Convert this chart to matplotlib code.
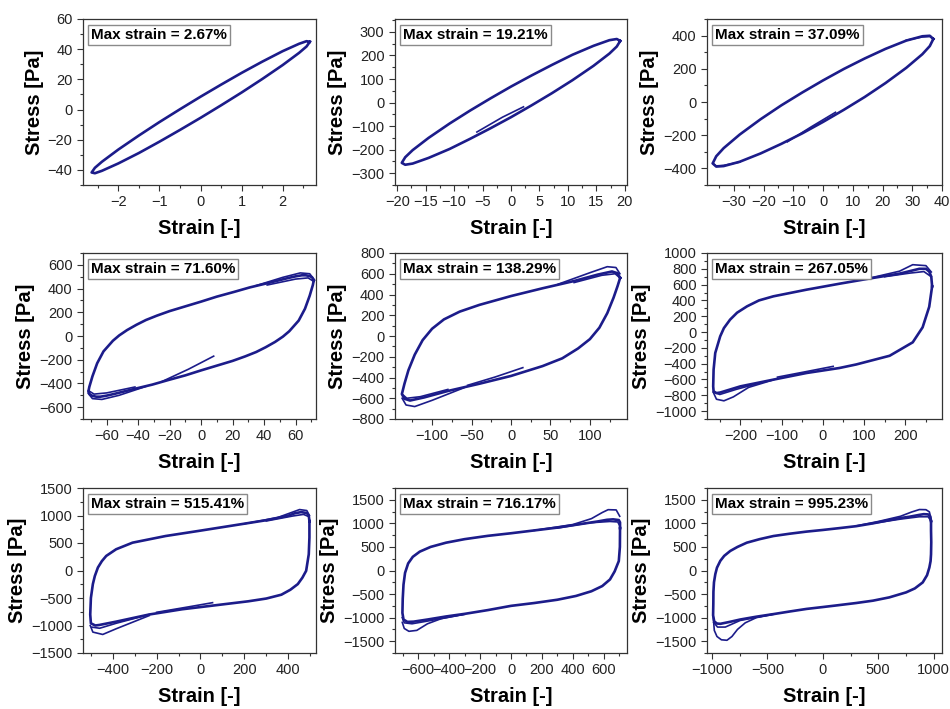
import matplotlib
matplotlib.use('Agg')
import matplotlib.pyplot as plt
from matplotlib.ticker import MultipleLocator
import numpy as np

plt.rcParams['font.family'] = ['Liberation Sans', 'DejaVu Sans']

LINE_COLOR = '#1c1c8a'
nan = np.nan

MAX_STRAIN_LABELS = ['2.67%', '19.21%', '37.09%', '71.60%', '138.29%',
                     '267.05%', '515.41%', '716.17%', '995.23%']

# steady loops
P1_STRAIN = [2.66, 2.58, 2.4, 2.0, 1.5, 1.0, 0.5, 0.0, -0.5, -1.0, -1.5, -2.0, -2.4, -2.57, -2.65,
             -2.57, -2.4, -2.0, -1.5, -1.0, -0.5, 0.0, 0.5, 1.0, 1.5, 2.0, 2.4, 2.58, 2.66]
P1_STRESS = [44.9, 45.3, 43.6, 38.7, 31.7, 24.3, 16.5, 8.5, 0.2, -8.3, -17.2, -26.5, -34.6, -38.6, -41.7,
             -42.2, -40.6, -35.7, -28.8, -21.3, -13.5, -5.5, 2.8, 11.3, 20.2, 29.5, 37.6, 41.8, 44.9]

P2_STRAIN = [19.21, 18.6, 17.3, 14.5, 10.8, 7.2, 3.6, 0, -3.6, -7.2, -10.8, -14.5, -17.3, -18.6, -19.21,
             -18.6, -17.3, -14.5, -10.8, -7.2, -3.6, 0, 3.6, 7.2, 10.8, 14.5, 17.3, 18.6, 19.21]
P2_STRESS = [262, 270, 265, 241, 203, 160, 115, 68, 18, -34, -89, -150, -202, -232, -256,
             -264, -259, -235, -197, -154, -109, -62, -12, 40, 95, 156, 208, 238, 262]

P3_STRAIN = [37.09, 35.9, 33.4, 28, 21, 14, 7, 0, -7, -14, -21, -28, -33.4, -35.9, -37.09,
             -35.9, -33.4, -28, -21, -14, -7, 0, 7, 14, 21, 28, 33.4, 35.9, 37.09]
P3_STRESS = [380, 399, 396, 370, 320, 262, 199, 130, 57, -20, -104, -196, -278, -327, -370,
             -389, -386, -360, -310, -252, -189, -120, -47, 30, 114, 206, 288, 337, 380]

P4_STRAIN = [71.6, 70.5, 69, 66.5, 64, 60, 55, 42, 31, 21, 10, 0, -10, -20, -28, -35, -41, -47, -52,
             -56, -59, -62, -64, -66, -69, -71, -71.6,
             -70.5, -69, -66.5, -64, -60, -55, -42, -31, -21, -10, 0, 10, 20, 28, 35, 41, 47, 52,
             56, 59, 62, 64, 66, 69, 71, 71.6]
P4_STRESS = [470, 495, 505, 512, 512, 503, 488, 445, 410, 372, 332, 290, 250, 210, 172, 135, 95, 50, 5,
             -40, -85, -130, -180, -230, -340, -430, -470,
             -495, -505, -512, -512, -503, -488, -445, -410, -372, -332, -290, -250, -210, -172, -135, -95, -50, -5,
             40, 85, 130, 180, 230, 340, 430, 470]

P5_STRAIN = [138.3, 135, 128, 110, 80, 40, 0, -40, -65, -85, -100, -112, -122, -130, -135, -138.3,
             -135, -128, -110, -80, -40, 0, 40, 65, 85, 100, 112, 122, 130, 135, 138.3]
P5_STRESS = [560, 605, 622, 592, 530, 460, 385, 300, 235, 160, 70, -40, -180, -330, -460, -560,
             -605, -622, -592, -530, -460, -385, -290, -215, -120, -30, 80, 220, 370, 480, 560]

P6_STRAIN = [265, 263, 258, 250, 234, 186, 121, 41, -39.5, -120, -155, -184, -208, -225, -240, -249,
             -261, -265, -266, -265, -258, -249, -200, -120, -39.5, 40, 81, 162, 218, 242, 258, 265]
P6_STRESS = [578, 700, 765, 800, 800, 739, 684, 612, 536, 452, 400, 325, 245, 157, 50, -54,
             -265, -476, -687, -750, -772, -765, -687, -602, -518, -455, -410, -300, -130, 60, 320, 578]

P7_STRAIN = [497, 494, 485, 459, 430, 399, 293, 143, -8, -159, -310, -385, -430, -450, -468, -482,
             -491, -500, -503, -500, -480, -461, -385, -234, -84, 52, 218, 300, 369, 410, 444, 465,
             482, 494, 497, 497]
P7_STRESS = [898, 1000, 1045, 1062, 1040, 995, 910, 815, 720, 627, 506, 386, 265, 170, 54, -100,
             -247, -500, -800, -960, -1000, -990, -930, -800, -705, -640, -560, -510, -440, -350, -247, -130,
             -6, 295, 600, 898]

P8_STRAIN = [705, 705, 697, 660, 620, 560, 450, 300, 150, 0, -150, -300, -420, -520, -590, -635,
             -665, -685, -695, -700, -702, -695, -670, -630, -540, -420, -300, -150, 0, 150,
             300, 420, 520, 590, 640, 670, 697, 704, 705]
P8_STRESS = [900, 1020, 1070, 1085, 1075, 1040, 985, 910, 850, 790, 735, 665, 590, 500, 400, 290,
             150, -50, -300, -600, -900, -1040, -1090, -1085, -1040, -975, -920, -840, -750, -690,
             -620, -540, -440, -330, -190, -20, 200, 500, 900]

P9_STRAIN = [976, 968, 950, 910, 871, 780, 692, 560, 452, 300, 153, 0, -147, -300, -446, -570,
             -686, -770, -835, -890, -925, -955, -970, -982, -987, -988, -990, -980, -955, -925,
             -840, -746, -600, -446, -300, -147, 0, 108, 300, 452, 600, 751, 830, 901, 940, 961,
             972, 976, 978, 976, 976]
P9_STRESS = [1047, 1150, 1190, 1195, 1180, 1140, 1110, 1050, 1000, 940, 900, 860, 825, 780, 731, 665,
             590, 500, 415, 310, 204, 60, -77, -250, -450, -710, -950, -1080, -1125, -1131,
             -1090, -1040, -980, -925, -870, -815, -775, -745, -690, -640, -570, -464, -380, -253, -100, 63,
             200, 344, 600, 850, 1047]

# other steady cycles near the corners (pieces separated by nan)
P1_CYCLE_STRAIN = []
P1_CYCLE_STRESS = []
P2_CYCLE_STRAIN = []
P2_CYCLE_STRESS = []
P3_CYCLE_STRAIN = [28, 33.4, 36, 37.09, nan, -28, -33.4, -36, -37.09]
P3_CYCLE_STRESS = [372, 392, 395, 378, nan, -362, -382, -385, -368]
P4_CYCLE_STRAIN = [42, 60, 68, 71.6, nan, -42, -60, -68, -71.6]
P4_CYCLE_STRESS = [430, 480, 490, 460, nan, -430, -480, -490, -460]
P5_CYCLE_STRAIN = [80, 115, 132, 138, nan, -80, -115, -132, -138]
P5_CYCLE_STRESS = [515, 585, 600, 560, nan, -515, -585, -600, -560]
P6_CYCLE_STRAIN = [150, 210, 245, 263, nan, -150, -210, -250, -265]
P6_CYCLE_STRESS = [700, 745, 765, 700, nan, -640, -725, -790, -760]
P7_CYCLE_STRAIN = [300, 420, 470, 494, nan, -234, -385, -460, -495]
P7_CYCLE_STRESS = [900, 990, 1020, 980, nan, -800, -960, -1050, -1030]
P8_CYCLE_STRAIN = [300, 500, 640, 690, 703, nan, -300, -500, -640, -690, -703]
P8_CYCLE_STRESS = [900, 1010, 1040, 1030, 950, nan, -930, -1050, -1130, -1110, -1000]
P9_CYCLE_STRAIN = [450, 700, 870, 950, 976, nan, -450, -746, -880, -950, -985]
P9_CYCLE_STRESS = [1000, 1090, 1140, 1140, 1050, nan, -925, -1060, -1200, -1200, -1100]

# start-up segment and first-cycle overshoots
P1_FIRST_STRAIN = []
P1_FIRST_STRESS = []
P2_FIRST_STRAIN = [2.2, -1.5, -6]
P2_FIRST_STRESS = [-18, -62, -125]
P3_FIRST_STRAIN = [4.2, -4, -12]
P3_FIRST_STRESS = [-62, -150, -240]
P4_FIRST_STRAIN = [8, -8, -25, nan, 35, 52, 63, 69, 71.6, nan, -35, -52, -63, -69, -71.6]
P4_FIRST_STRESS = [-170, -280, -385, nan, 425, 495, 532, 525, 480, nan, -425, -500, -535, -528, -485]
P5_FIRST_STRAIN = [15, -20, -55, nan, 60, 100, 122, 133, 138, nan, -60, -100, -122, -133, -138]
P5_FIRST_STRESS = [-305, -395, -475, nan, 500, 610, 668, 660, 600, nan, -500, -620, -680, -665, -600]
P6_FIRST_STRAIN = [25, -40, -110, nan, 120, 186, 218, 250, 263, nan, -120, -180, -217, -240, -258, -266]
P6_FIRST_STRESS = [-434, -500, -570, nan, 690, 770, 852, 840, 760, nan, -605, -700, -820, -870, -850, -760]
P7_FIRST_STRAIN = [55, -60, -200, nan, 200, 350, 452, 485, 497, nan, -234, -385, -446, -491, -503]
P7_FIRST_STRESS = [-585, -665, -760, nan, 850, 960, 1108, 1090, 1000, nan, -820, -1060, -1163, -1120, -1000]
P8_FIRST_STRAIN = [150, 400, 520, 590, 628, 680, 703, nan, -300, -450, -540, -609, -660, -690, -703]
P8_FIRST_STRESS = [850, 975, 1100, 1230, 1290, 1285, 1150, nan, -925, -1020, -1130, -1270, -1290, -1230, -1100]
P9_FIRST_STRAIN = [300, 500, 700, 800, 871, 930, 961, 976, nan,
                   -446, -600, -700, -770, -820, -865, -915, -955, -979, -988]
P9_FIRST_STRESS = [945, 1040, 1150, 1240, 1293, 1290, 1244, 1100, nan,
                   -930, -1000, -1110, -1250, -1400, -1480, -1470, -1400, -1272, -1000]

X_LIMITS = [(-2.86, 2.81), (-20.4, 20.4), (-39, 40), (-75, 73), (-147, 147),
            (-281, 289), (-536, 527), (-750, 750), (-1045, 1075)]
Y_LIMITS = [(-50, 60), (-350, 355), (-500, 500), (-700, 700), (-800, 800),
            (-1100, 1000), (-1500, 1500), (-1750, 1750), (-1750, 1750)]
X_STEPS = [1, 5, 10, 20, 50, 100, 200, 200, 500]
Y_STEPS = [20, 100, 200, 200, 200, 200, 500, 500, 500]

loops = [(P1_STRAIN, P1_STRESS), (P2_STRAIN, P2_STRESS), (P3_STRAIN, P3_STRESS),
         (P4_STRAIN, P4_STRESS), (P5_STRAIN, P5_STRESS), (P6_STRAIN, P6_STRESS),
         (P7_STRAIN, P7_STRESS), (P8_STRAIN, P8_STRESS), (P9_STRAIN, P9_STRESS)]
cycles = [(P1_CYCLE_STRAIN, P1_CYCLE_STRESS), (P2_CYCLE_STRAIN, P2_CYCLE_STRESS),
          (P3_CYCLE_STRAIN, P3_CYCLE_STRESS), (P4_CYCLE_STRAIN, P4_CYCLE_STRESS),
          (P5_CYCLE_STRAIN, P5_CYCLE_STRESS), (P6_CYCLE_STRAIN, P6_CYCLE_STRESS),
          (P7_CYCLE_STRAIN, P7_CYCLE_STRESS), (P8_CYCLE_STRAIN, P8_CYCLE_STRESS),
          (P9_CYCLE_STRAIN, P9_CYCLE_STRESS)]
firsts = [(P1_FIRST_STRAIN, P1_FIRST_STRESS), (P2_FIRST_STRAIN, P2_FIRST_STRESS),
          (P3_FIRST_STRAIN, P3_FIRST_STRESS), (P4_FIRST_STRAIN, P4_FIRST_STRESS),
          (P5_FIRST_STRAIN, P5_FIRST_STRESS), (P6_FIRST_STRAIN, P6_FIRST_STRESS),
          (P7_FIRST_STRAIN, P7_FIRST_STRESS), (P8_FIRST_STRAIN, P8_FIRST_STRESS),
          (P9_FIRST_STRAIN, P9_FIRST_STRESS)]

W, H = 950, 709
fig = plt.figure(figsize=(W / 100, H / 100), dpi=100)

# axes boxes in pixels
col_px = [(83, 316), (395, 627), (707, 942)]
row_px = [(19, 185), (253, 419), (488, 653)]

for i in range(9):
    r, c = divmod(i, 3)
    x0, x1 = col_px[c]
    y0, y1 = row_px[r]
    ax = fig.add_axes([x0 / W, 1 - y1 / H, (x1 - x0) / W, (y1 - y0) / H])

    for xs, ys in (firsts[i], cycles[i]):
        if len(xs):
            ax.plot(xs, ys, color=LINE_COLOR, lw=1.2, solid_joinstyle='round')
    ls, ly = loops[i]
    ax.plot(ls, ly, color=LINE_COLOR, lw=1.9, solid_joinstyle='round')

    ax.set_xlim(*X_LIMITS[i])
    ax.set_ylim(*Y_LIMITS[i])
    ax.xaxis.set_major_locator(MultipleLocator(X_STEPS[i]))
    ax.xaxis.set_minor_locator(MultipleLocator(X_STEPS[i] / 2))
    ax.yaxis.set_major_locator(MultipleLocator(Y_STEPS[i]))
    ax.yaxis.set_minor_locator(MultipleLocator(Y_STEPS[i] / 2))
    ax.tick_params(which='both', direction='out', top=False, right=False,
                   colors='#333333', labelsize=10.5, labelcolor='#222222')
    ax.tick_params(which='major', length=4, width=0.8)
    ax.tick_params(which='minor', length=2.5, width=0.8)
    for sp in ax.spines.values():
        sp.set_color('#333333')
        sp.set_linewidth(0.9)

    ax.set_xlabel('Strain [-]', fontsize=14.5, fontweight='bold', labelpad=7)
    ax.set_ylabel('Stress [Pa]', fontsize=14.5, fontweight='bold', labelpad=3)

    ax.text(0.034, 0.945, 'Max strain = ' + MAX_STRAIN_LABELS[i], transform=ax.transAxes,
            ha='left', va='top', fontsize=11, fontweight='bold',
            bbox=dict(boxstyle='square,pad=0.2', facecolor='white', edgecolor='#8a8a8a', lw=1))

fig.savefig('out.png', dpi=100)
